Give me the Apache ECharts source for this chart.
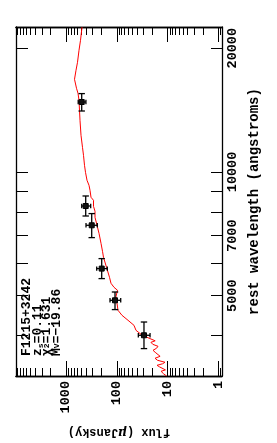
<!DOCTYPE html>
<html><head><meta charset="utf-8">
<script src="https://cdn.jsdelivr.net/npm/echarts@6/dist/echarts.min.js"></script>
<style>html,body{margin:0;padding:0;background:#fff}#c{width:277px;height:443px}</style>
</head><body><div id="c"></div>
<script>
// ---- axis ticks / labels ----
const fluxMajorTicks = [1, 10, 100, 1000];
const fluxMinorTicks = [0.9, 2, 3, 4, 5, 6, 7, 8, 9, 20, 30, 40, 50, 60, 70, 80, 90,
  200, 300, 400, 500, 600, 700, 800, 900, 2000, 3000, 4000, 5000, 6000, 7000, 8000, 9000];
const waveTicks = [4000, 5000, 6000, 7000, 8000, 9000, 10000, 20000];
const waveLabels = [5000, 7000, 10000, 20000];

// ---- model spectrum (rest wavelength in angstroms, flux in microJansky) ----
const specWave = [3190, 3230, 3274, 3300, 3330, 3358, 3386, 3415, 3444, 3483, 3522, 3561, 3601, 3642,
  3683, 3724, 3766, 3808, 3851, 3884, 3917, 3961, 4028, 4119,
  4236, 4357, 4480, 4607, 4792, 4983, 5154, 5241, 5360, 5543, 5862, 6200, 6412, 6706, 7092, 7335,
  7757, 8022, 8250, 8532, 8677, 9024, 9280, 9544, 9980, 10380, 10977, 11480, 12279, 13356, 14125,
  14939, 15536, 15978, 16804, 17673, 18483, 19769, 20907, 22500];
const specFlux = [10.5, 12.0, 13.4, 11.0, 10.7, 14.5, 16.1, 12.5, 11.2, 15.8, 17.6, 14.0, 13.4, 17.5,
  19.3, 16.5, 15.4, 19.5, 21.2, 17.5, 16.9, 25.4, 33.3, 41.8,
  45.8, 60.0, 78.9, 94.5, 98.9, 103.5, 96.7, 113.3, 129.9, 139.0, 159.2, 182.5, 190.9, 204.4, 223.8, 239.5,
  268.3, 268.3, 287.2, 287.2, 321.7, 336.6, 352.2, 385.6, 412.8, 432.0, 452.1, 473.1, 506.3, 529.8, 542.0,
  554.4, 580.1, 620.9, 679.9, 635.1, 593.4, 554.4, 518.0, 483.9];

// ---- photometry ----
const photWave   = [4006, 4873, 5820, 7418, 8264, 14797];
const photWaveLo = [3718, 4626, 5503, 6923, 7814, 14070];
const photWaveHi = [4315, 5105, 6155, 7920, 8741, 15510];
const photFlux   = [29.1, 108.3, 198.0, 311.6, 409.0, 490.4];
const photFluxLo = [22.1, 83.6, 153.6, 241.7, 326.1, 405.0];
const photFluxHi = [37.6, 135.9, 248.4, 403.5, 490.0, 575.0];

const FONT = 'Liberation Mono';
const fluxMin = 0.845, fluxMax = 9660;
const waveMin = 3189, waveMax = 22523;

const specData = specWave.map((w, i) => [specFlux[i], w]);
const photData = photWave.map((w, i) => [photFlux[i], w, photFluxLo[i], photFluxHi[i], photWaveLo[i], photWaveHi[i]]);

function xAx(pos, ticks, len, labels, name) {
  const a = {
    type: 'log', position: pos, inverse: true, min: fluxMin, max: fluxMax, logBase: 10,
    axisLine: { show: true, onZero: false, lineStyle: { color: '#000', width: 1.3 } },
    axisTick: { show: true, inside: true, length: len, customValues: ticks, lineStyle: { color: '#000', width: 1 } },
    axisLabel: { show: false },
    splitLine: { show: false }, minorTick: { show: false }, minorSplitLine: { show: false }
  };
  if (labels) {
    a.axisLabel = { show: true, customValues: labels, rotate: 90, margin: 5,
      fontFamily: FONT, fontWeight: 'bold', fontSize: 13.5, color: '#000',
      formatter: v => String(Math.round(v)) };
  }
  if (name) {
    a.name = name; a.nameLocation = 'middle'; a.nameRotate = 180; a.nameGap = 50;
    a.nameTextStyle = { fontFamily: FONT, fontWeight: 'bold', fontSize: 12, color: '#000',
      rich: { i: { fontFamily: 'DejaVu Serif', fontStyle: 'italic', fontSize: 12, color: '#000' } } };
  }
  return a;
}
function yAx(pos, len, labels, name) {
  const a = {
    type: 'log', position: pos, min: waveMin, max: waveMax, logBase: 10,
    axisLine: { show: true, onZero: false, lineStyle: { color: '#000', width: 1.3 } },
    axisTick: { show: true, inside: true, length: len, customValues: waveTicks, lineStyle: { color: '#000', width: 1 } },
    axisLabel: { show: false },
    splitLine: { show: false }, minorTick: { show: false }, minorSplitLine: { show: false }
  };
  if (labels) {
    a.axisLabel = { show: true, customValues: labels, rotate: 90, margin: 4,
      fontFamily: FONT, fontWeight: 'bold', fontSize: 13.5, color: '#000',
      formatter: v => String(Math.round(v)) };
  }
  if (name) {
    a.name = name; a.nameLocation = 'middle'; a.nameRotate = 90; a.nameGap = 19;
    a.nameTextStyle = { fontFamily: FONT, fontWeight: 'bold', fontSize: 14, color: '#000' };
  }
  return a;
}

const chart = echarts.init(document.getElementById('c'), null, { renderer: 'canvas' });
chart.setOption({
  animation: false,
  backgroundColor: '#fff',
  grid: { left: 16, right: 55, top: 27, bottom: 67, containLabel: false, outerBoundsMode: 'none' },
  xAxis: [
    xAx('bottom', fluxMajorTicks, 15, fluxMajorTicks, 'flux ({i|μ}Jansky)'),
    xAx('bottom', fluxMinorTicks, 8, null, null),
    xAx('top', fluxMajorTicks, 15, null, null),
    xAx('top', fluxMinorTicks, 8, null, null)
  ],
  yAxis: [
    yAx('right', 11, waveLabels, 'rest wavelength (angstroms)'),
    yAx('left', 12, null, null)
  ],
  series: [
    {
      type: 'line', xAxisIndex: 0, yAxisIndex: 0, data: specData,
      showSymbol: false, symbol: 'none', smooth: false,
      lineStyle: { color: '#ff0000', width: 1 }, z: 2
    },
    {
      type: 'custom', xAxisIndex: 0, yAxisIndex: 0, data: photData, z: 3,
      renderItem: function (params, api) {
        const c = api.coord([api.value(0), api.value(1)]);
        const fl = api.coord([api.value(2), api.value(1)]);
        const fh = api.coord([api.value(3), api.value(1)]);
        const wl = api.coord([api.value(0), api.value(4)]);
        const wh = api.coord([api.value(0), api.value(5)]);
        const st = { stroke: '#000', lineWidth: 1.3, fill: null };
        const cap = 3.2, cap2 = 2.2;
        return {
          type: 'group',
          children: [
            { type: 'line', shape: { x1: wl[0], y1: wl[1], x2: wh[0], y2: wh[1] }, style: st },
            { type: 'line', shape: { x1: wl[0] - cap, y1: wl[1], x2: wl[0] + cap, y2: wl[1] }, style: st },
            { type: 'line', shape: { x1: wh[0] - cap, y1: wh[1], x2: wh[0] + cap, y2: wh[1] }, style: st },
            { type: 'line', shape: { x1: fl[0], y1: fl[1], x2: fh[0], y2: fh[1] }, style: st },
            { type: 'line', shape: { x1: fl[0], y1: fl[1] - cap2, x2: fl[0], y2: fl[1] + cap2 }, style: st },
            { type: 'line', shape: { x1: fh[0], y1: fh[1] - cap2, x2: fh[0], y2: fh[1] + cap2 }, style: st },
            { type: 'rect', shape: { x: c[0] - 2.5, y: c[1] - 2.5, width: 5, height: 5 }, style: { fill: '#111', stroke: '#000', lineWidth: 1 } }
          ]
        };
      }
    }
  ],
  graphic: [
    { type: 'text', x: 27, y: 356, rotation: Math.PI / 2,
      style: { text: 'F1215+3242', font: 'bold 13px "Liberation Mono"', fill: '#000', textAlign: 'left', textVerticalAlign: 'middle' } },
    { type: 'text', x: 38, y: 356, rotation: Math.PI / 2,
      style: { text: 'z{s|s}=0.11', font: 'bold 13px "Liberation Mono"', fill: '#000', textAlign: 'left', textVerticalAlign: 'middle',
        rich: { s: { font: 'bold 8px "Liberation Mono"', verticalAlign: 'bottom', padding: [4, 0, 0, 0] } } } },
    { type: 'text', x: 47, y: 356, rotation: Math.PI / 2,
      style: { text: 'χ{s|2}=1.631', font: 'bold 13px "Liberation Mono"', fill: '#000', textAlign: 'left', textVerticalAlign: 'middle',
        rich: { s: { font: 'bold 8px "Liberation Mono"' } } } },
    { type: 'text', x: 57, y: 356, rotation: Math.PI / 2,
      style: { text: 'M{s|V}=\u221219.86', font: 'bold 13px "Liberation Mono"', fill: '#000', textAlign: 'left', textVerticalAlign: 'middle',
        rich: { s: { font: 'bold 8px "Liberation Mono"' } } } }
  ]
});
</script>
</body></html>
